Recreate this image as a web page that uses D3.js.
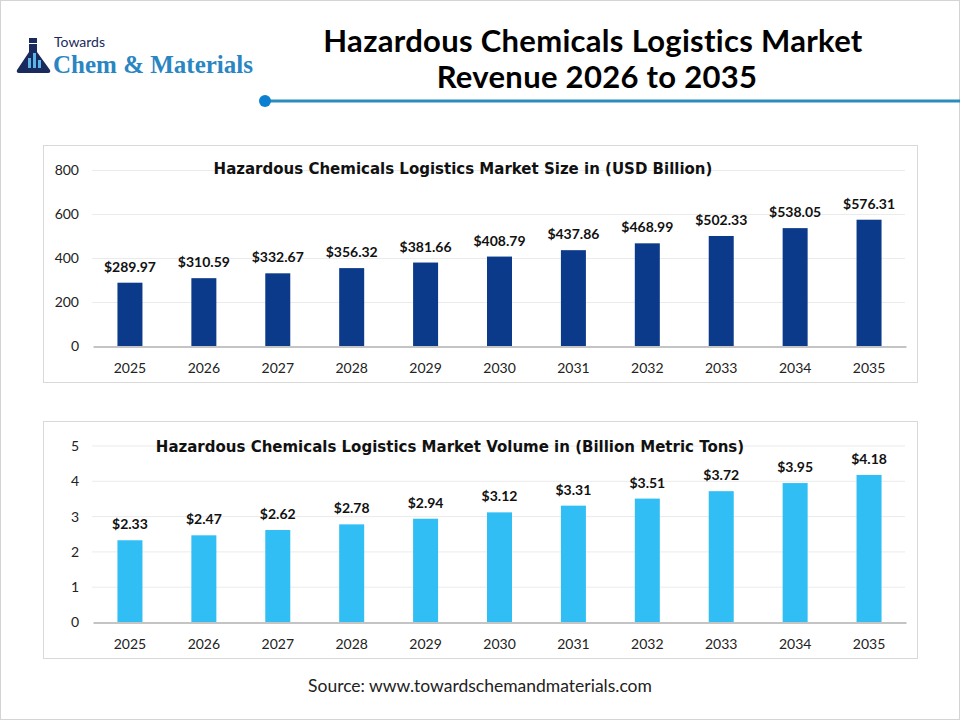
<!DOCTYPE html>
<html>
<head>
<meta charset="utf-8">
<script src="https://cdn.jsdelivr.net/npm/d3@7"></script>
<style>
  body { margin: 0; background: #fff; }
  svg { display: block; }
</style>
</head>
<body>
<div id="chart"></div>
<script>
// data
const years = ["2025","2026","2027","2028","2029","2030","2031","2032","2033","2034","2035"];
const revenue = [289.97, 310.59, 332.67, 356.32, 381.66, 408.79, 437.86, 468.99, 502.33, 538.05, 576.31];
const volume = [2.33, 2.47, 2.62, 2.78, 2.94, 3.12, 3.31, 3.51, 3.72, 3.95, 4.18];
const revenueTicks = [0, 200, 400, 600, 800];
const volumeTicks = [0, 1, 2, 3, 4, 5];

const W = 960, H = 720;

const svg = d3.select("#chart")
  .append("svg")
  .attr("width", W)
  .attr("height", H);

// page frame
svg.append("rect")
  .attr("x", 0.5).attr("y", 0.5)
  .attr("width", W - 1).attr("height", H - 1)
  .attr("fill", "#fff")
  .attr("stroke", "#d4d4d4");

// logo
const logo = svg.append("g");
logo.append("rect").attr("x", 29).attr("y", 38).attr("width", 8).attr("height", 5).attr("fill", "#1b2a5c");
logo.append("path")
  .attr("d", "M29,44 L37,44 L37,52 L50,70 Q51,73 48,73 L19,73 Q16,73 17,70 L29,52 Z")
  .attr("fill", "#1b2a5c");
logo.append("rect").attr("x", 28).attr("y", 58).attr("width", 3).attr("height", 10).attr("fill", "#5ab4e6");
logo.append("rect").attr("x", 33).attr("y", 53).attr("width", 3).attr("height", 15).attr("fill", "#5ab4e6");
logo.append("rect").attr("x", 38).attr("y", 60).attr("width", 3).attr("height", 8).attr("fill", "#5ab4e6");
logo.append("text")
  .attr("x", 54).attr("y", 47)
  .style("font-family", "Lato, sans-serif")
  .style("font-size", "14px")
  .style("fill", "#1b2a5c")
  .text("Towards");
logo.append("text")
  .attr("x", 53).attr("y", 73)
  .style("font-family", "'Liberation Serif', serif")
  .style("font-weight", "bold")
  .style("font-size", "25px")
  .style("fill", "#2a86c2")
  .text("Chem & Materials");

// main title
const title = svg.append("text")
  .attr("text-anchor", "middle")
  .style("font-family", "Lato, sans-serif")
  .style("font-weight", "bold")
  .style("font-size", "31px")
  .style("letter-spacing", "0.3px")
  .style("fill", "#000");
title.append("tspan").attr("x", 593).attr("y", 52).text("Hazardous Chemicals Logistics Market");
title.append("tspan").attr("x", 597).attr("y", 88).text("Revenue 2026 to 2035");

// header rule
svg.append("line")
  .attr("x1", 265).attr("x2", W)
  .attr("y1", 101).attr("y2", 101)
  .attr("stroke", "#2a8bbd")
  .attr("stroke-width", 3);
svg.append("circle")
  .attr("cx", 265).attr("cy", 101).attr("r", 6)
  .attr("fill", "#0b7fd0");

function drawPanel(cfg) {
  const g = svg.append("g");

  g.append("rect")
    .attr("x", 43.5).attr("y", cfg.top + 0.5)
    .attr("width", 874).attr("height", 237)
    .attr("fill", "#fff")
    .attr("stroke", "#d9d9d9");

  const x = d3.scaleBand()
    .domain(years)
    .range([93, 906]);

  const y = d3.scaleLinear()
    .domain([0, d3.max(cfg.ticks)])
    .range([cfg.zeroY, cfg.maxY]);

  // gridlines
  g.selectAll(".grid")
    .data(cfg.ticks.slice(1))
    .join("line")
      .attr("x1", 92).attr("x2", 905)
      .attr("y1", d => y(d)).attr("y2", d => y(d))
      .attr("stroke", "#ebebeb");

  // y axis
  const ya = g.append("g")
    .attr("transform", "translate(92,0)")
    .call(d3.axisLeft(y).tickValues(cfg.ticks).tickFormat(d3.format("d")).tickSize(0).tickPadding(13));
  ya.select(".domain").remove();
  ya.selectAll("text")
    .style("font-family", "Lato, sans-serif")
    .style("font-size", "14px")
    .style("fill", "#222");

  // chart title
  g.append("text")
    .attr("x", cfg.titleX).attr("y", cfg.titleY)
    .attr("text-anchor", "middle")
    .style("font-family", "'DejaVu Sans', sans-serif")
    .style("font-weight", "bold")
    .style("font-size", "15px")
    .style("fill", "#111")
    .text(cfg.title);

  // bars
  const bw = 25;
  g.selectAll(".bar")
    .data(cfg.values)
    .join("rect")
      .attr("x", (d, i) => x(years[i]) + x.bandwidth() / 2 - bw / 2)
      .attr("y", d => y(d))
      .attr("width", bw)
      .attr("height", d => cfg.zeroY - y(d))
      .attr("fill", cfg.color);

  // value labels
  g.selectAll(".lbl")
    .data(cfg.values)
    .join("text")
      .attr("x", (d, i) => x(years[i]) + x.bandwidth() / 2)
      .attr("y", d => y(d) - 11)
      .attr("text-anchor", "middle")
      .style("font-family", "Lato, sans-serif")
      .style("font-weight", "bold")
      .style("font-size", "14px")
      .style("fill", "#111")
      .text(d => "$" + d3.format(".2f")(d));

  // x axis
  const xa = g.append("g")
    .attr("transform", `translate(0,${cfg.zeroY})`)
    .call(d3.axisBottom(x).tickSize(0).tickPadding(17));
  xa.select(".domain")
    .attr("stroke", "#c4c4c4")
    .attr("stroke-width", 2);
  xa.selectAll("text")
    .style("font-family", "Lato, sans-serif")
    .style("font-size", "14px")
    .style("fill", "#222");
}

drawPanel({
  top: 145, zeroY: 346.5, maxY: 170.5,
  values: revenue, ticks: revenueTicks, color: "#0b3a8a",
  title: "Hazardous Chemicals Logistics Market Size in (USD Billion)",
  titleX: 463, titleY: 174
});

drawPanel({
  top: 421, zeroY: 622.5, maxY: 446,
  values: volume, ticks: volumeTicks, color: "#30bef5",
  title: "Hazardous Chemicals Logistics Market Volume in (Billion Metric Tons)",
  titleX: 450, titleY: 452
});

// source
svg.append("text")
  .attr("x", 480).attr("y", 692)
  .attr("text-anchor", "middle")
  .style("font-family", "Lato, sans-serif")
  .style("font-size", "17.5px")
  .style("fill", "#222")
  .text("Source: www.towardschemandmaterials.com");
</script>
</body>
</html>
